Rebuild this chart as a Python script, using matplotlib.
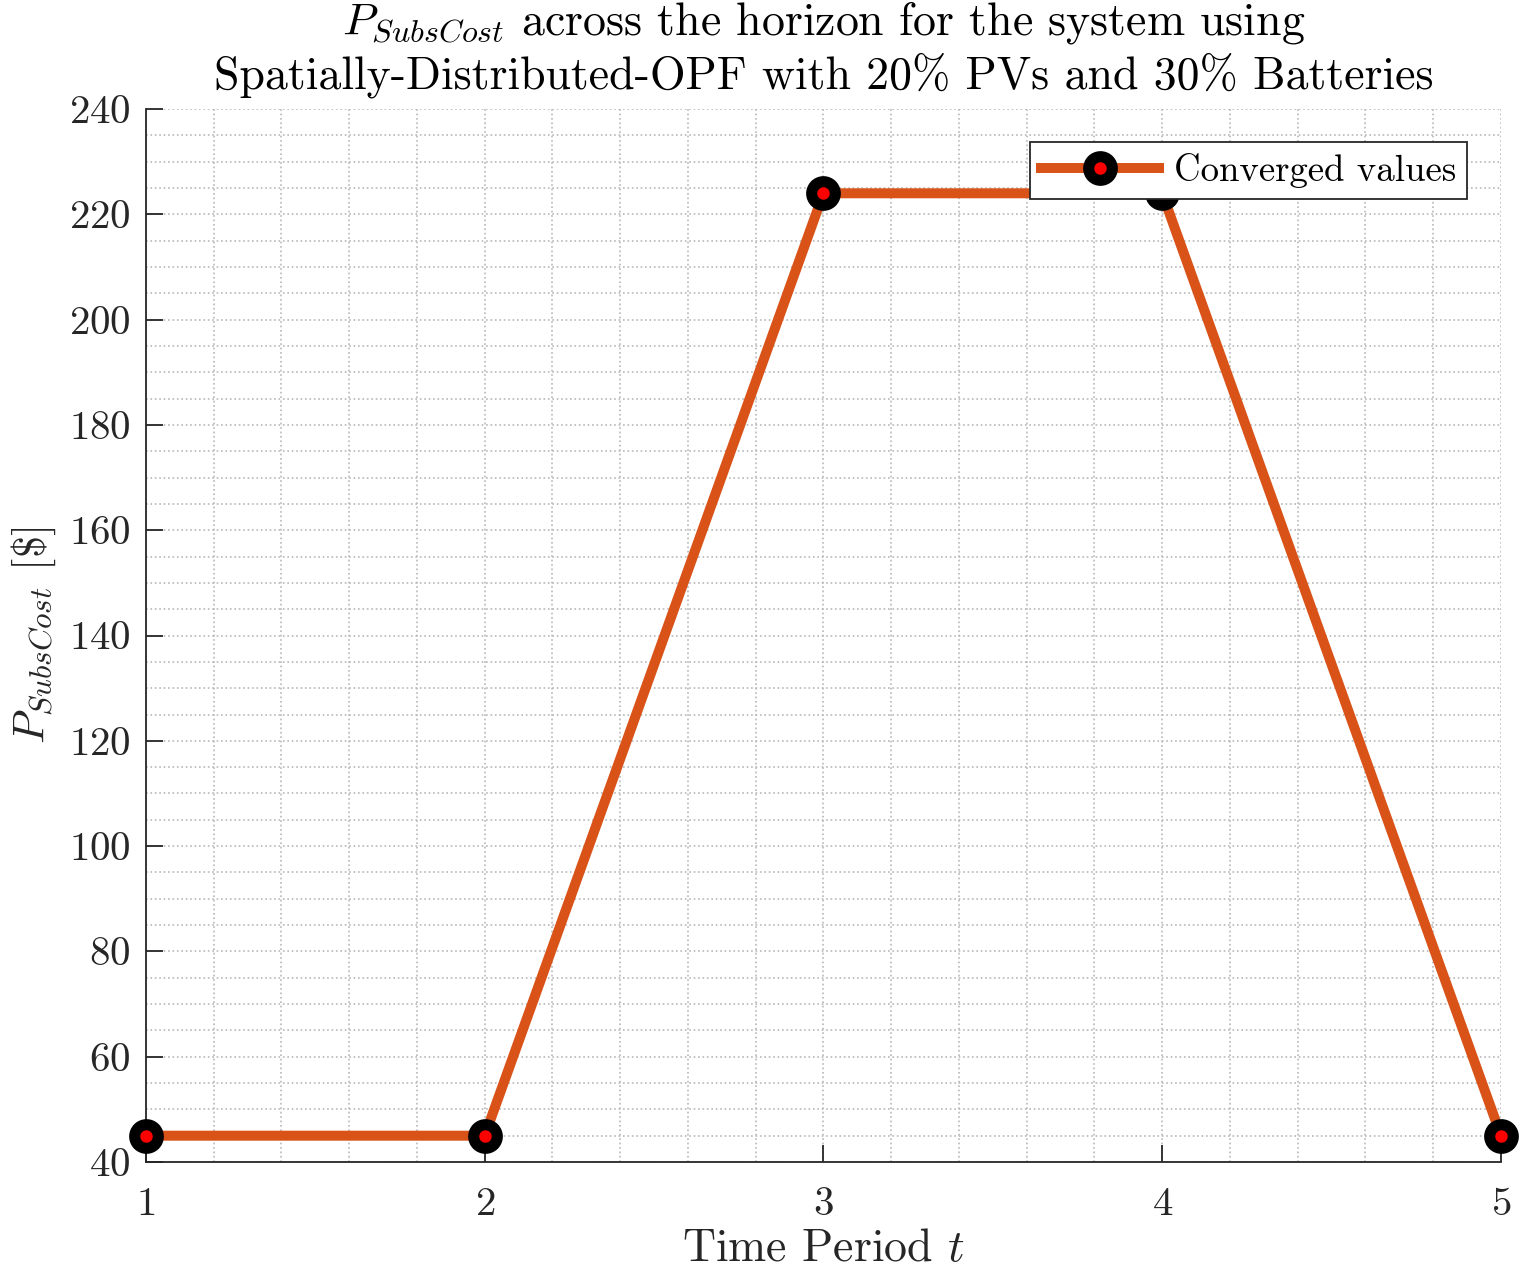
import matplotlib
matplotlib.use('Agg')
from matplotlib import pyplot as plt
from matplotlib.ticker import MultipleLocator

# data
periods = [1, 2, 3, 4, 5]
subs_cost = [45, 45, 224, 224, 45]
y_ticks = [40, 60, 80, 100, 120, 140, 160, 180, 200, 220, 240]

plt.rcParams['font.family'] = 'serif'
plt.rcParams['font.serif'] = ['cmr10']
plt.rcParams['mathtext.fontset'] = 'cm'
plt.rcParams['axes.formatter.use_mathtext'] = True

fig = plt.figure(figsize=(15.22, 12.74), dpi=100)
ax = fig.add_axes([0.0959, 0.0879, 0.8903, 0.8265])

ax.plot(periods, subs_cost, color='#D95319', linewidth=7.2,
        marker='o', markersize=17, markerfacecolor='red',
        markeredgecolor='black', markeredgewidth=8,
        label='Converged values', clip_on=False, zorder=3)

ax.set_xlim(1, 5)
ax.set_ylim(40, 240)
ax.set_xticks(periods)
ax.set_yticks(y_ticks)
ax.xaxis.set_minor_locator(MultipleLocator(0.2))
ax.yaxis.set_minor_locator(MultipleLocator(5))

ax.grid(True, which='both', color='#b8b8b8', linestyle=':', linewidth=1.2)
ax.set_axisbelow(True)

for s in ['top', 'right']:
    ax.spines[s].set_visible(False)
for s in ['left', 'bottom']:
    ax.spines[s].set_color('#262626')
    ax.spines[s].set_linewidth(1.3)

ax.tick_params(which='major', direction='in', length=12, width=1.3,
               labelsize=29.5, colors='#262626')
ax.tick_params(axis='x', pad=18)
ax.tick_params(axis='y', pad=11)
ax.tick_params(which='minor', length=0)

ax.set_xlabel(r'Time Period $t$', fontsize=33, color='#262626', labelpad=4)
ax.set_ylabel(r'$P_{SubsCost}$ [\$]', fontsize=32, color='#262626', labelpad=8)
ax.set_title(r'$P_{SubsCost}$ across the horizon for the system using' + '\n'
             + r'Spatially-Distributed-OPF with 20% PVs and 30% Batteries',
             fontsize=33, pad=15, linespacing=1.17)

leg = ax.legend(loc='upper right', bbox_to_anchor=(0.975, 0.969),
                fontsize=26.5, fancybox=False, framealpha=1,
                edgecolor='#262626', handlelength=3.2, borderaxespad=0,
                borderpad=0.3, handletextpad=0.4)
leg.get_frame().set_linewidth(1.3)

fig.savefig('out.png', dpi=100)
